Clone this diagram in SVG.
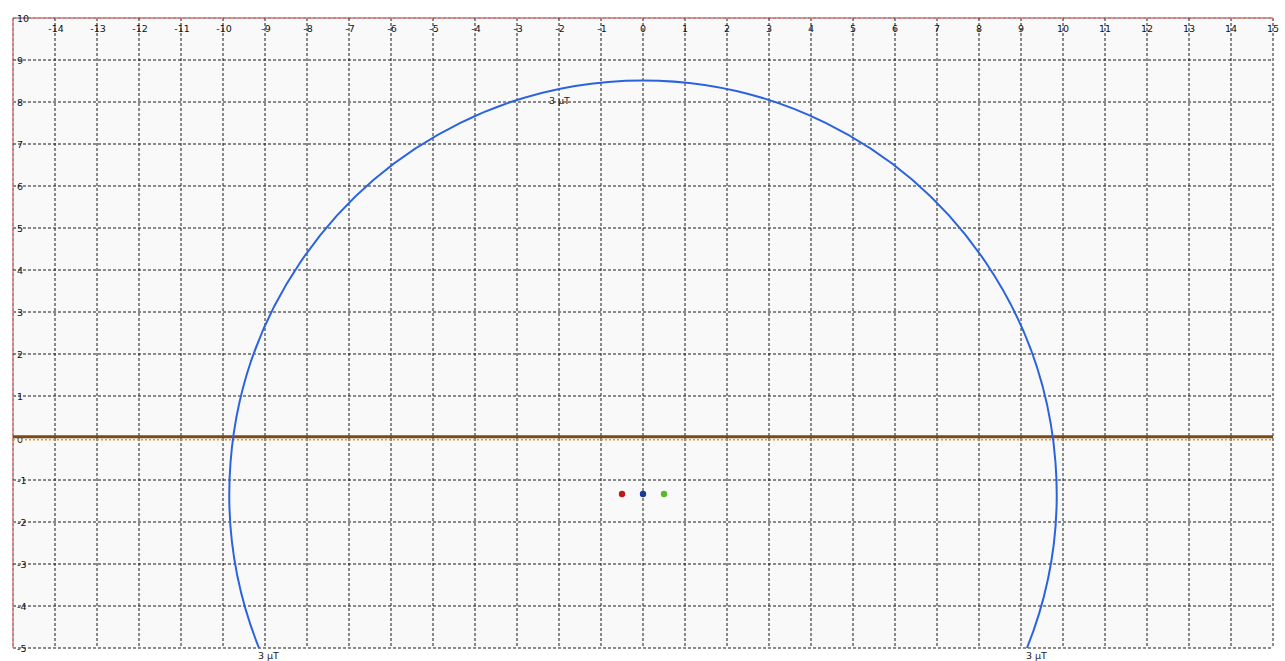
<svg xmlns="http://www.w3.org/2000/svg" width="1285" height="661" viewBox="0 0 1285 661">
<style>
.grid{stroke:#1a1a1a;stroke-width:1;stroke-dasharray:3,2;fill:none}
.lbl{font-family:"DejaVu Sans","Liberation Sans",sans-serif;font-size:9.5px;fill:#111}
.xl{text-anchor:middle}
.yl{text-anchor:start;dominant-baseline:central}
.note{font-family:"DejaVu Sans","Liberation Sans",sans-serif;font-size:9.5px;fill:#222}
</style>
<rect x="0" y="0" width="1285" height="661" fill="#ffffff"/>
<rect x="13" y="18" width="1260" height="630" fill="#f9f9f9"/>
<g id="grid">
<path class="grid" d="M55 18V648M97 18V648M139 18V648M181 18V648M223 18V648M265 18V648M307 18V648M349 18V648M391 18V648M433 18V648M475 18V648M517 18V648M559 18V648M601 18V648M643 18V648M685 18V648M727 18V648M769 18V648M811 18V648M853 18V648M895 18V648M937 18V648M979 18V648M1021 18V648M1063 18V648M1105 18V648M1147 18V648M1189 18V648M1231 18V648M1273 18V648"/>
<path class="grid" d="M13 60H1273M13 102H1273M13 144H1273M13 186H1273M13 228H1273M13 270H1273M13 312H1273M13 354H1273M13 396H1273M13 480H1273M13 522H1273M13 564H1273M13 606H1273M13 648H1273"/>
<path d="M13 18H1273M13 18V648" stroke="#333" stroke-width="1" stroke-dasharray="3,2" fill="none"/>
<path d="M13 18H1273M13 18V648" stroke="#ee7070" stroke-width="1.4" stroke-dasharray="3,2" stroke-dashoffset="3" fill="none"/>
</g>
<g id="x-labels" class="lbl xl">
<text x="56" y="32">-14</text><text x="98" y="32">-13</text><text x="140" y="32">-12</text><text x="182" y="32">-11</text><text x="224" y="32">-10</text><text x="266" y="32">-9</text><text x="308" y="32">-8</text><text x="350" y="32">-7</text><text x="392" y="32">-6</text><text x="434" y="32">-5</text><text x="476" y="32">-4</text><text x="518" y="32">-3</text><text x="560" y="32">-2</text><text x="602" y="32">-1</text><text x="643" y="32">0</text><text x="685" y="32">1</text><text x="727" y="32">2</text><text x="769" y="32">3</text><text x="811" y="32">4</text><text x="853" y="32">5</text><text x="895" y="32">6</text><text x="937" y="32">7</text><text x="979" y="32">8</text><text x="1021" y="32">9</text><text x="1063" y="32">10</text><text x="1105" y="32">11</text><text x="1147" y="32">12</text><text x="1189" y="32">13</text><text x="1231" y="32">14</text><text x="1273" y="32">15</text>
</g>
<g id="y-labels" class="lbl yl">
<text x="17" y="18">10</text><text x="17" y="60">9</text><text x="17" y="102">8</text><text x="17" y="144">7</text><text x="17" y="186">6</text><text x="17" y="228">5</text><text x="17" y="270">4</text><text x="17" y="312">3</text><text x="17" y="354">2</text><text x="17" y="396">1</text><text x="17" y="439">0</text><text x="17" y="480">-1</text><text x="17" y="522">-2</text><text x="17" y="564">-3</text><text x="17" y="606">-4</text><text x="17" y="648">-5</text>
</g>
<g id="ground-line">
<line x1="13" y1="436.8" x2="1273" y2="436.8" stroke="#7a4a12" stroke-width="3"/>
<line x1="13" y1="439.8" x2="1273" y2="439.8" stroke="#e8962e" stroke-width="1.6" stroke-dasharray="2,2"/>
</g>
<g id="contour-3uT">
<path d="M259 648A413.7 413.7 0 1 1 1027 648" fill="none" stroke="#2a62e0" stroke-width="2"/>
<text class="note" x="549" y="104">3 μT</text>
<text class="note" x="258" y="659">3 μT</text>
<text class="note" x="1026" y="659">3 μT</text>
</g>
<g id="conductors">
<circle cx="622" cy="494" r="3.2" fill="#c01818"/>
<circle cx="643" cy="494" r="3.2" fill="#1a3a9a"/>
<circle cx="664" cy="494" r="3.2" fill="#5ab82a"/>
</g>
</svg>
